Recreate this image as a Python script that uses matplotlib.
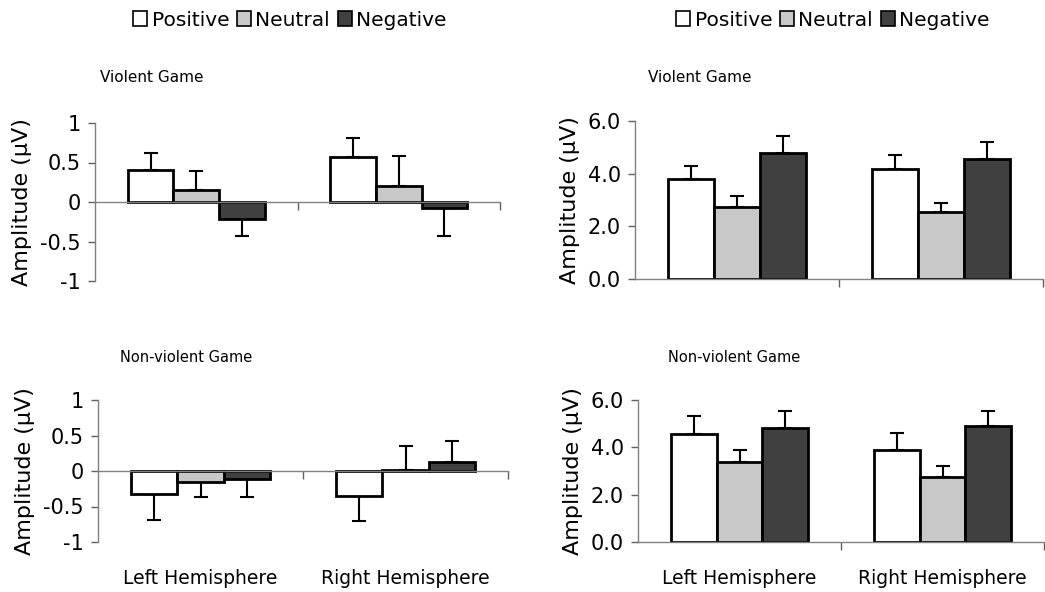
import matplotlib
matplotlib.use("Agg")
from matplotlib import pyplot as plt
from matplotlib.patches import Patch
from matplotlib.transforms import blended_transform_factory
import numpy as np

plt.rcParams['font.family'] = ['DejaVu Sans']

hemispheres = ["Left Hemisphere", "Right Hemisphere"]
conditions = ["Positive", "Neutral", "Negative"]
colors = ["#ffffff", "#c8c8c8", "#404040"]

# left column: difference amplitude, right column: raw amplitude
violent_diff = [[0.41, 0.57], [0.15, 0.20], [-0.22, -0.08]]
violent_diff_err = [[0.21, 0.24], [0.24, 0.38], [0.21, 0.35]]
nonviolent_diff = [[-0.32, -0.35], [-0.15, 0.02], [-0.11, 0.13]]
nonviolent_diff_err = [[0.37, 0.35], [0.22, 0.33], [0.25, 0.29]]

violent_amp = [[3.80, 4.18], [2.75, 2.55], [4.80, 4.55]]
violent_amp_err = [[0.50, 0.52], [0.40, 0.32], [0.62, 0.65]]
nonviolent_amp = [[4.55, 3.87], [3.38, 2.75], [4.82, 4.92]]
nonviolent_amp_err = [[0.78, 0.75], [0.52, 0.47], [0.70, 0.63]]

W, H = 1045, 592
fig = plt.figure(figsize=(W / 100, H / 100), dpi=100)


def px_axes(x0, x1, y0, y1):
    return fig.add_axes([x0 / W, 1 - y1 / H, (x1 - x0) / W, (y1 - y0) / H])


def draw_panel(ax, values, errs, ylim, yticks, yfmt, zero_axis, show_labels):
    x = np.arange(len(hemispheres))
    width = 0.225
    for k in range(len(conditions)):
        vals = np.array(values[k])
        err = np.array(errs[k])
        pos = x + (k - 1) * width
        lower = np.where(vals < 0, err, 0)
        upper = np.where(vals >= 0, err, 0)
        ax.bar(pos, vals, width, color=colors[k], edgecolor="black",
               linewidth=2, zorder=2)
        ax.errorbar(pos, vals, yerr=[lower, upper], fmt="none",
                    ecolor="black", elinewidth=1.5, capsize=5,
                    capthick=1.5, zorder=1)
    ax.set_xlim(-0.5, 1.5)
    ax.set_ylim(*ylim)
    ax.set_yticks(yticks)
    ax.set_yticklabels([yfmt.format(t) for t in yticks], fontsize=15)
    ax.set_xticks([0.5, 1.5])
    ax.set_xticklabels([])
    ax.tick_params(axis="y", length=5, width=1, color="#606060", pad=5)
    ax.tick_params(axis="x", length=6, width=1, color="#606060")
    for s in ["top", "right"]:
        ax.spines[s].set_visible(False)
    for s in ["left", "bottom"]:
        ax.spines[s].set_color("#808080")
        ax.spines[s].set_linewidth(1)
    if zero_axis:
        ax.spines["bottom"].set_position(("data", 0))
    ax.set_ylabel("Amplitude (\u03bcV)", fontsize=16, labelpad=6)
    if show_labels:
        tr = blended_transform_factory(ax.transData, fig.transFigure)
        for i, lab in enumerate(hemispheres):
            ax.text(i, 1 - 579 / H, lab, transform=tr, ha="center",
                    va="center", fontsize=13.5)


ax1 = px_axes(95, 500, 123, 281)
draw_panel(ax1, violent_diff, violent_diff_err, (-1, 1),
           [-1, -0.5, 0, 0.5, 1], "{:g}", True, False)
ax2 = px_axes(98, 508, 400, 542)
draw_panel(ax2, nonviolent_diff, nonviolent_diff_err, (-1, 1),
           [-1, -0.5, 0, 0.5, 1], "{:g}", True, True)
ax3 = px_axes(635, 1043, 121, 279)
draw_panel(ax3, violent_amp, violent_amp_err, (0, 6),
           [0, 2, 4, 6], "{:.1f}", False, False)
ax4 = px_axes(638, 1044, 400, 542)
draw_panel(ax4, nonviolent_amp, nonviolent_amp_err, (0, 6),
           [0, 2, 4, 6], "{:.1f}", False, True)

fig.text(100 / W, 1 - 77 / H, "Violent Game", fontsize=11, va="center")
fig.text(648 / W, 1 - 77 / H, "Violent Game", fontsize=11, va="center")
fig.text(120 / W, 1 - 358 / H, "Non-violent Game", fontsize=10.5, va="center")
fig.text(668 / W, 1 - 358 / H, "Non-violent Game", fontsize=10.5, va="center")

handles = [Patch(facecolor=c, edgecolor="black", linewidth=1.2) for c in colors]
for cx in [290, 833]:
    fig.legend(handles, conditions, loc="center",
               bbox_to_anchor=(cx / W, 1 - 20 / H), ncol=3, frameon=False,
               fontsize=14.5, handlelength=0.7, handleheight=0.7,
               handletextpad=0.2, columnspacing=0.4)

fig.savefig("out.png", dpi=100)
